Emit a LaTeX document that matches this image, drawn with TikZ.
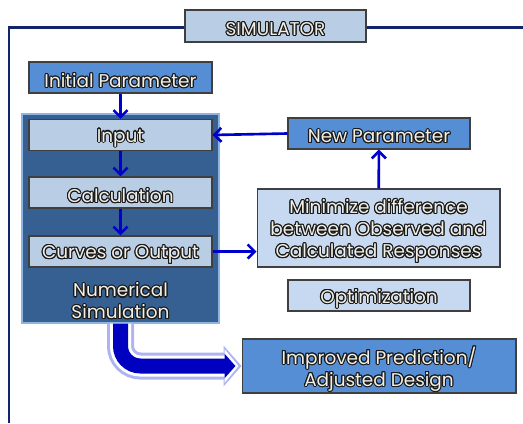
\documentclass[tikz,border=0pt]{standalone}
\usepackage{fontspec}
\setmainfont{Poppins}
\usepackage{contour}
\contourlength{0.6pt}
\contournumber{16}
\usetikzlibrary{arrows.meta}

\definecolor{navyline}{HTML}{10256B}
\definecolor{lightfill}{HTML}{B9CDE5}
\definecolor{paler}{HTML}{C6D9F1}
\definecolor{midfill}{HTML}{558ED5}
\definecolor{simfill}{HTML}{376092}
\definecolor{simedge}{HTML}{8EB4E3}
\definecolor{boxline}{HTML}{3F3F3F}
\definecolor{flowblue}{HTML}{0000CC}
\definecolor{bigblue}{HTML}{0000C0}
\definecolor{glow}{HTML}{AEB4F2}
\definecolor{textfill}{HTML}{F2F0E6}
\definecolor{textline}{HTML}{1A1A1A}

\newcommand{\olt}[1]{\raisebox{-2pt}[\height][\depth]{\textcolor{textfill}{\contour{textline}{#1}}}}

\begin{document}
\begin{tikzpicture}[x=0.02cm,y=-0.02cm,font=\fontsize{10.5}{12.5}\selectfont,
  lightbox/.style={draw=boxline,fill=lightfill,line width=0.6pt,inner sep=0pt,
    minimum height=0.62cm,minimum width=3.66cm},
  darkbox/.style={lightbox,fill=midfill},
  flow/.style={draw=flowblue,line width=1.5pt,-{Straight Barb[length=4pt,width=8pt]}}]
\useasboundingbox (0,0) rectangle (523,423);
% frame of the simulator
\draw[navyline,line width=0.06cm] (9,423) -- (9,27) -- (523,27);
\node[lightbox,minimum width=3.62cm,minimum height=0.64cm] (sim) at (275.5,26) {\olt{SIMULATOR}};

% numerical simulation
\node[darkbox] (init) at (120.5,77.5) {\olt{Initial Parameter}};
\node[draw=simedge,fill=simfill,line width=0.8pt,inner sep=0pt,
  minimum width=3.94cm,minimum height=4.18cm] (numsim) at (120.5,218.5) {};
\node[lightbox] (input) at (120.5,135) {\olt{Input}};
\node[lightbox] (calc) at (120.5,192.5) {\olt{Calculation}};
\node[lightbox] (curves) at (120.5,251.5) {\olt{Curves or Output}};
\node[align=center] (numlabel) at (120.5,298) {\olt{Numerical}\\\olt{Simulation}};

% optimization
\node[darkbox,minimum width=3.64cm] (newpar) at (379,133.5) {\olt{New Parameter}};
\node[lightbox,fill=paler,minimum width=4.86cm,minimum height=1.56cm,align=center] (minim) at (378.5,228)
  {\olt{Minimize difference}\\\olt{between Observed and}\\\olt{Calculated Responses}};
\node[lightbox,fill=paler,minimum width=3.64cm] (optim) at (379,295.5) {\olt{Optimization}};
\node[darkbox,minimum width=5.48cm,minimum height=1.08cm,align=center] (improved) at (379,366)
  {\olt{Improved Prediction/}\\\olt{Adjusted Design}};

\draw[flow] (init) -- (input);
\draw[flow] (input) -- (calc);
\draw[flow] (calc) -- (curves);
\draw[flow] (curves.east) -- (minim.west |- curves.east);
\draw[flow] (minim) -- (newpar);
\draw[flow] (newpar.west) -- (input.east);

% big arrow
\draw[glow,line width=0.54cm,rounded corners=0.4cm,-{Triangle[length=0.36cm,width=0.8cm]}]
  (numsim.south) |- (improved.west);
\draw[white,line width=0.42cm,rounded corners=0.4cm,shorten >=0.06cm,-{Triangle[length=0.28cm,width=0.66cm]}]
  (numsim.south) |- (improved.west);
\draw[bigblue,line width=0.3cm,rounded corners=0.4cm,shorten >=0.12cm,-{Triangle[length=0.22cm,width=0.48cm]}]
  (numsim.south) |- (improved.west);
\end{tikzpicture}
\end{document}
